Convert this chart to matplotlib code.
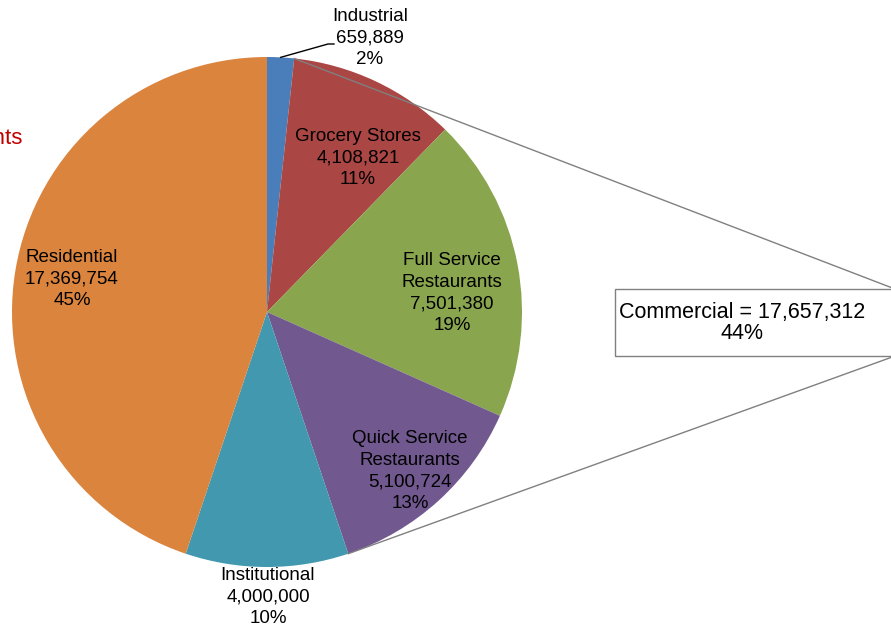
import numpy as np
import matplotlib.pyplot as plt
from matplotlib.patches import Rectangle

plt.rcParams['font.family'] = ['Liberation Sans', 'DejaVu Sans']

# slice data, clockwise from 12 o'clock
categories = ["Industrial", "Grocery Stores", "Full Service\nRestaurants",
              "Quick Service\nRestaurants", "Institutional", "Residential"]
values = [659889, 4108821, 7501380, 5100724, 4000000, 17369754]
percents = ["2%", "11%", "19%", "13%", "10%", "45%"]
colors = ["#4A7EBB", "#AA4643", "#89A54E", "#71588F", "#4198AF", "#DB843D"]
commercial_text = "Commercial = 17,657,312\n44%"

W, H = 891, 630
fig = plt.figure(figsize=(W / 100, H / 100), dpi=100)
ax = fig.add_axes([0, 0, 1, 1])

cx, cy, r = 267, H - 312, 255

wedges, _ = ax.pie(values, colors=colors, startangle=90, counterclock=False,
                   center=(cx, cy), radius=r, frame=True,
                   wedgeprops=dict(linewidth=0))
ax.set_xlim(0, W)
ax.set_ylim(0, H)
ax.set_aspect('equal')
ax.axis('off')

# label positions (pixel coords from top)
label_pos = [(370, 38), (358, 158), (452, 293), (410, 471), (268, 597), (72, 279)]
for cat, v, p, (lx, ly) in zip(categories, values, percents, label_pos):
    ax.text(lx, H - ly, f"{cat}\n{v:,}\n{p}", ha='center', va='center',
            fontsize=13.5, linespacing=1.36, color='black')

# leader for Industrial
frac = np.cumsum(values) / np.sum(values)
a_ind = np.deg2rad(90 - 360 * frac[0] / 2)
ax.plot([cx + r * np.cos(a_ind), 328, 334],
        [cy + r * np.sin(a_ind), H - 44, H - 44], color='black', lw=1)

# commercial callout lines: from start of Grocery to end of Quick Service
a_top = np.deg2rad(90 - 360 * frac[0])
a_bot = np.deg2rad(90 - 360 * frac[3])
box_l, box_t, box_b, box_r = 615, 289, 356, 895
ax.plot([cx + r * np.cos(a_top), box_r], [cy + r * np.sin(a_top), H - box_t],
        color='#808080', lw=1)
ax.plot([cx + r * np.cos(a_bot), box_r], [cy + r * np.sin(a_bot), H - box_b],
        color='#808080', lw=1)
ax.add_patch(Rectangle((box_l, H - box_b), box_r - box_l, box_b - box_t,
                       facecolor='white', edgecolor='#808080', lw=1, zorder=3))
ax.text(742, H - 323, commercial_text, ha='center', va='center', fontsize=15.5,
        linespacing=1.05, zorder=4)

# cropped red text at left edge
ax.text(23, H - 139, "Restaurants", ha='right', va='center', fontsize=16,
        color='#C00000')

fig.savefig("out.png", dpi=100)
